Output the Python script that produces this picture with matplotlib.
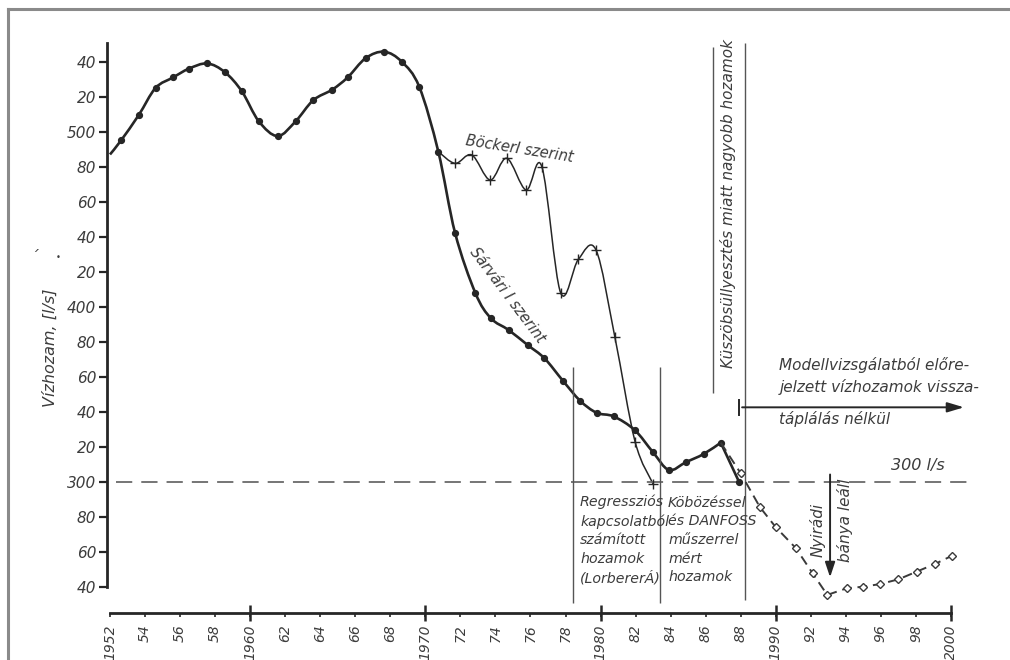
import numpy as np
import matplotlib
matplotlib.use("Agg")
import matplotlib.pyplot as plt
from matplotlib.path import Path
from matplotlib.patches import PathPatch
from matplotlib.lines import Line2D

# ---------------- data ----------------
sarvari_x = [1952.0, 1952.63, 1953.64, 1954.6, 1955.6, 1956.5, 1957.55, 1958.56, 1959.53,
             1960.49, 1961.57, 1962.6, 1963.6, 1964.68, 1965.56, 1966.59, 1967.65, 1968.65,
             1969.65, 1970.74, 1971.7, 1972.86, 1973.74, 1974.75, 1975.85, 1976.8, 1977.85,
             1978.83, 1979.77, 1980.75, 1981.95, 1982.98, 1983.9, 1984.88, 1985.88, 1986.86,
             1987.9]
sarvari_y = [487, 495, 509.5, 525, 531, 536, 539, 534, 523,
             506, 497.5, 506, 518, 524, 531, 542, 545.7, 540,
             525.7, 488.6, 442, 407.7, 393.4, 386.7, 378, 370.5, 357.7,
             346.3, 339.4, 337.3, 329.5, 317, 306.7, 311.2, 315.8, 322.3,
             300]

bocker_x = [1970.74, 1971.7, 1972.65, 1973.7, 1974.65, 1975.75, 1976.65, 1977.72,
            1978.73, 1979.74, 1980.82, 1981.97, 1983.0]
bocker_y = [488.6, 481.9, 486.7, 472.4, 484.8, 466.7, 480, 408,
            427, 432.4, 382.5, 322.9, 298.7]

forecast_x = [1986.86, 1988.0, 1989.1, 1990.0, 1991.15, 1992.1, 1992.94, 1994.05,
              1995.0, 1995.95, 1997.0, 1998.04, 1999.09, 2000.04]
forecast_y = [322.3, 304.8, 285.4, 274, 262, 247.7, 235.3, 239.1,
              240, 241.5, 244.2, 248.6, 253, 257.6]

limit_value = 300

y_tick_vals = [240, 260, 280, 300, 320, 340, 360, 380, 400, 420, 440, 460, 480, 500, 520, 540]
y_tick_labels = ["40", "60", "80", "300", "20", "40", "60", "80", "400", "20", "40", "60",
                 "80", "500", "20", "40"]
x_tick_vals = list(range(1952, 2001, 2))
x_tick_labels = ["1952", "54", "56", "58", "1960", "62", "64", "66", "68", "1970", "72", "74",
                 "76", "78", "1980", "82", "84", "86", "88", "1990", "92", "94", "96", "98",
                 "2000"]
x_decades = [1960, 1970, 1980, 1990, 2000]

# period separators
sep_regression = 1978.41
sep_measured = 1983.42
sep_kuszob_left = 1986.39
sep_kuszob_right = 1988.27
nyiradi_year = 1993.1

# ---------------- styling ----------------
INK = "#262626"
TXT = "#3c3c3c"
THIN = "#555555"
FONT = dict(family="DejaVu Sans", style="italic", color=TXT)


def smooth_path(xs, ys):
    pts = np.column_stack([xs, ys]).astype(float)
    verts = [pts[0]]
    codes = [Path.MOVETO]
    n = len(pts)
    for i in range(n - 1):
        p0 = pts[i - 1] if i > 0 else pts[i]
        p1 = pts[i]
        p2 = pts[i + 1]
        p3 = pts[i + 2] if i + 2 < n else pts[i + 1]
        c1 = p1 + (p2 - p0) / 6.0
        c2 = p2 - (p3 - p1) / 6.0
        verts += [c1, c2, p2]
        codes += [Path.CURVE4] * 3
    return Path(verts, codes)


fig = plt.figure(figsize=(10.1, 6.6), dpi=100)
fig.patch.set_facecolor("white")
ax = fig.add_axes([107.3 / 1010, (660 - 612.95) / 660, 878.7 / 1010, 586.25 / 660])
ax.set_xlim(1951.846, 2002)
ax.set_ylim(225, 560)
ax.set_facecolor("none")

# scan frame
fig.add_artist(Line2D([8 / 1010, 1.0], [1 - 9 / 660] * 2, transform=fig.transFigure,
                      color="#8a8a8a", lw=2.2))
fig.add_artist(Line2D([8 / 1010] * 2, [0.0, 1 - 9 / 660], transform=fig.transFigure,
                      color="#8a8a8a", lw=2.2))

# spines
for s in ["top", "right"]:
    ax.spines[s].set_visible(False)
ax.spines["left"].set_bounds(240, 550.6)
ax.spines["bottom"].set_bounds(1952, 2000)
ax.spines["left"].set_linewidth(2)
ax.spines["bottom"].set_linewidth(2)
ax.spines["left"].set_color(INK)
ax.spines["bottom"].set_color(INK)

ax.set_yticks(y_tick_vals, y_tick_labels)
ax.tick_params(axis="y", direction="out", length=6, width=1.6, colors=INK,
               labelsize=11, pad=2, labelcolor=TXT)
ax.set_xticks(x_tick_vals, x_tick_labels, rotation=90)
ax.set_xticks(x_decades, minor=True)
ax.xaxis.remove_overlapping_locs = False
ax.tick_params(axis="x", which="major", direction="out", length=3, width=1.2, colors=INK,
               labelsize=10, pad=5, labelcolor=TXT)
ax.tick_params(axis="x", which="minor", direction="inout", length=12, width=1.8, colors=INK)
for lab in ax.get_yticklabels() + ax.get_xticklabels():
    lab.set_style("italic")
    lab.set_family("DejaVu Sans")

# 300 l/s reference
ax.axhline(limit_value, xmin=0.01, xmax=0.985, color="#6a6a6a", lw=1.3, dashes=(9, 5))

# separators
ax.vlines([sep_regression, sep_measured], 230.5, 365.7, color=THIN, lw=1.0)
ax.vlines([sep_kuszob_left], 350.7, 548.6, color=THIN, lw=1.0)
ax.vlines([sep_kuszob_right], 232.4, 550.7, color=THIN, lw=1.0)

# Böcker curve
ax.add_patch(PathPatch(smooth_path(bocker_x, bocker_y), fill=False, ec=INK, lw=1.1))
ax.plot(bocker_x[1:], bocker_y[1:], ls="none", marker="+", ms=7, mew=1.0, color=INK)

# Sárvári curve: smooth up to the 1986 peak, straight afterwards
ipk = len(sarvari_x) - 2
ax.add_patch(PathPatch(smooth_path(sarvari_x[:ipk + 1], sarvari_y[:ipk + 1]), fill=False,
                       ec=INK, lw=1.9))
ax.plot(sarvari_x[ipk:], sarvari_y[ipk:], color=INK, lw=1.9)
ax.plot(sarvari_x[1:], sarvari_y[1:], ls="none", marker="o", ms=4.2, color=INK)

# forecast
ax.plot(forecast_x, forecast_y, color="#3a3a3a", lw=1.4, dashes=(5, 3))
ax.plot(forecast_x[1:], forecast_y[1:], ls="none", marker="D", ms=3.6, mfc="white",
        mec="#3a3a3a", mew=1.0)

# Nyirádi arrow
ax.annotate("", xy=(nyiradi_year, 243.8), xytext=(nyiradi_year, 305.7),
            arrowprops=dict(arrowstyle="-|>,head_length=0.9,head_width=0.3", color=INK, lw=1.4))
ax.text(1992.41, 272.5, "Nyirádi", rotation=90, ha="center", va="center", fontsize=11, **FONT)
ax.text(1993.95, 278, "bánya leáll", rotation=90, ha="center", va="center", fontsize=11, **FONT)

# forecast arrow
ax.annotate("", xy=(2000.9, 342.5), xytext=(1987.92, 342.5),
            arrowprops=dict(arrowstyle="-|>,head_length=1.0,head_width=0.3", color=INK, lw=1.4))
ax.plot([1987.92, 1987.92], [338.3, 346.7], color=INK, lw=1.4)
ax.text(1990.2, 360.5, "Modellvizsgálatból előre-\njelzett vízhozamok vissza-",
        ha="left", va="center", fontsize=11, linespacing=1.45, **FONT)
ax.text(1990.2, 335.7, "táplálás nélkül", ha="left", va="center", fontsize=11, **FONT)

ax.text(1998.09, 309.5, "300 l/s", ha="center", va="center", fontsize=11.5, **FONT)

ax.text(1987.29, 459, "Küszöbsüllyesztés miatt nagyobb hozamok", rotation=90,
        ha="center", va="center", fontsize=11, **FONT)

ax.text(1978.83, 266.7, "Regressziós\nkapcsolatból\nszámított\nhozamok\n(LorbererÁ)",
        ha="left", va="center", fontsize=10.2, linespacing=1.42, **FONT)
ax.text(1983.85, 266.7, "Köbözéssel\nés DANFOSS\nműszerrel\nmért\nhozamok",
        ha="left", va="center", fontsize=10.2, linespacing=1.42, **FONT)

ax.text(1975.40, 490, "BöckerI szerint", rotation=-9, ha="center", va="center",
        fontsize=10.5, rotation_mode="anchor", **FONT)
ax.text(1974.68, 406.7, "Sárvári I szerint", rotation=-53, ha="center", va="center",
        fontsize=10.5, rotation_mode="anchor", **FONT)

# y axis title
fig.text(50 / 1010, 1 - 348 / 660, "Vízhozam, [l/s]", rotation=90, ha="center", va="center",
         fontsize=11.5, **FONT)
fig.text(34 / 1010, 1 - 257 / 660, "´", ha="center", va="center", fontsize=11, **FONT)
fig.text(58 / 1010, 1 - 257 / 660, "•", ha="center", va="center", fontsize=6, **FONT)

fig.savefig("out.png", dpi=100)
